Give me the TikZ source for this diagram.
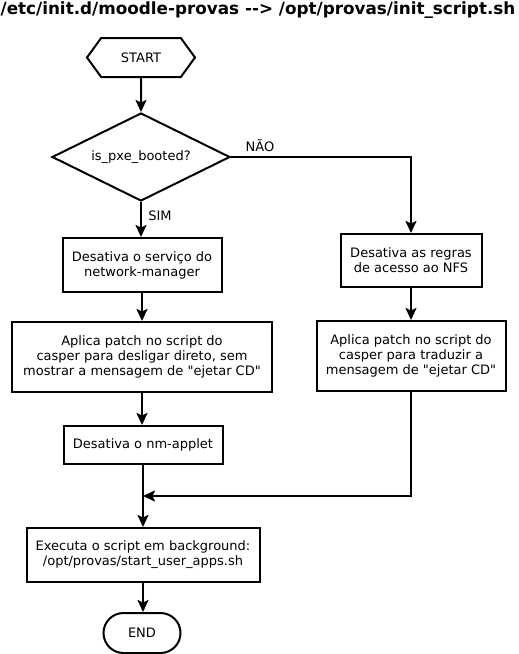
\documentclass[tikz,border=0pt]{standalone}
\usepackage{fontspec}
\defaultfontfeatures{}
\defaultfontfeatures[\rmfamily]{}
\setmainfont{DejaVu Sans}
\usetikzlibrary{shapes.geometric,shapes.symbols,shapes.misc,arrows.meta}
\begin{document}
\begin{tikzpicture}[x=1pt,y=-1pt,
  every node/.style={font=\fontsize{13}{15}\selectfont, align=center, inner sep=0pt, line width=2pt},
  proc/.style={draw, rectangle},
  arr/.style={line width=2pt, -{Stealth[length=12pt,width=11pt,inset=2.5pt]}}]
\useasboundingbox (0,0) rectangle (519,654);
\node[font=\bfseries\fontsize{16.8}{18}\selectfont] (title) at (258,10) {/etc/init.d/moodle-provas -{}-> /opt/provas/init\_script.sh};
\node[draw, signal, signal to=east and west, signal pointer angle=108, minimum width=108pt, minimum height=39pt] (start) at (141,57.5) {START};
\node[draw, diamond, aspect=2, minimum width=178pt, minimum height=88pt] (dec) at (141,157) {is\_pxe\_booted?};
\node[proc, minimum width=159pt, minimum height=54pt] (b1) at (142,265) {Desativa o serviço do\\network-manager};
\node[proc, minimum width=141pt, minimum height=53pt] (r1) at (411,260.5) {Desativa as regras\\de acesso ao NFS};
\node[proc, minimum width=260pt, minimum height=70pt] (b2) at (142,357) {Aplica patch no script do\\casper para desligar direto, sem\\mostrar a mensagem de "ejetar CD"};
\node[proc, minimum width=189pt, minimum height=70pt] (r2) at (411,356) {Aplica patch no script do\\casper para traduzir a\\mensagem de "ejetar CD"};
\node[proc, minimum width=159pt, minimum height=38pt] (b3) at (143,445) {Desativa o nm-applet};
\node[proc, minimum width=233pt, minimum height=54pt] (b4) at (143,555) {Executa o script em background:\\/opt/provas/start\_user\_apps.sh};
\node[draw, rounded rectangle, minimum width=77pt, minimum height=40pt] (end) at (142,633) {END};
\node (sim) at (160,216) {SIM};
\node (nao) at (260,146) {NÃO};
\coordinate (merge) at (143,496);
\draw[arr] (start) -- (dec);
\draw[arr] (dec) -- (b1.north -| dec.south);
\draw[arr] (dec.east) -| (r1.north);
\draw[arr] (b1) -- (b2);
\draw[arr] (r1) -- (r2);
\draw[arr] (b2) -- (b3.north -| b2.south);
\draw[arr] (b3) -- (b4);
\draw[arr] (r2.south) |- (merge);
\draw[arr] (b4) -- (end.north -| b4.south);
\end{tikzpicture}
\end{document}
